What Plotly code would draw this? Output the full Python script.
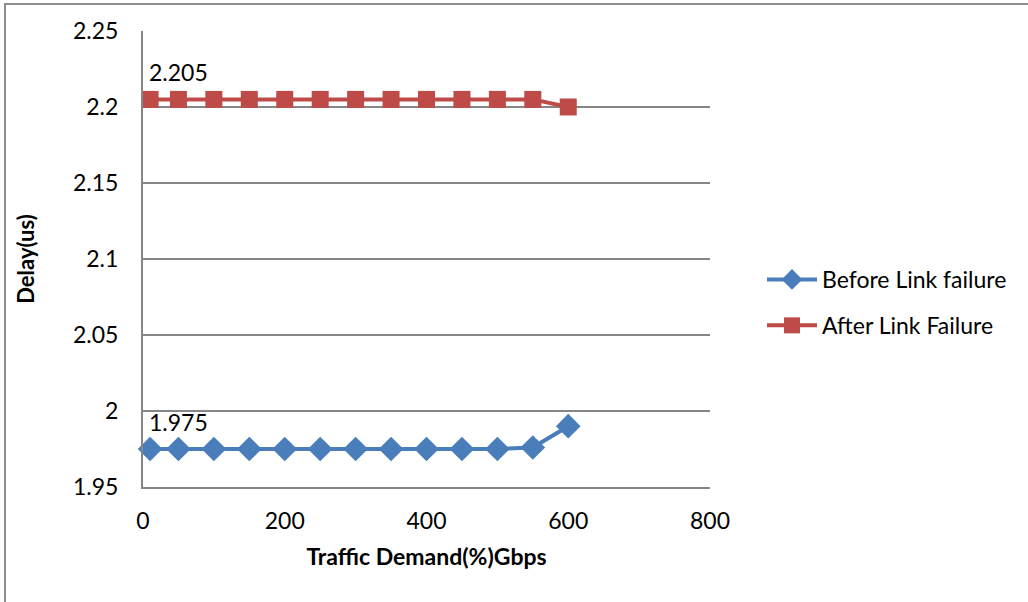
import plotly.graph_objects as go

# Traffic demand (x) and measured delay for each scenario
traffic = [10, 50, 100, 150, 200, 250, 300, 350, 400, 450, 500, 550, 600]
delay_before = [1.975, 1.975, 1.975, 1.975, 1.975, 1.975, 1.975, 1.975, 1.975, 1.975, 1.975, 1.976, 1.99]
delay_after = [2.205, 2.205, 2.205, 2.205, 2.205, 2.205, 2.205, 2.205, 2.205, 2.205, 2.205, 2.205, 2.2]

x_ticks = [0, 200, 400, 600, 800]
y_ticks = [1.95, 2.0, 2.05, 2.1, 2.15, 2.2, 2.25]
y_tick_text = ["1.95", "2", "2.05", "2.1", "2.15", "2.2", "2.25"]

BLUE = "#4A7EBB"
RED = "#BE4B48"
GRID = "#868686"
FONT = "Lato, Open Sans, sans-serif"
TXT = 23

fig = go.Figure()
fig.add_trace(go.Scatter(
    x=traffic, y=delay_before, name="Before Link failure", legendgroup="before",
    mode="lines+markers",
    line=dict(color=BLUE, width=4),
    marker=dict(symbol="diamond", size=19, color=BLUE),
    cliponaxis=False,
))
fig.add_trace(go.Scatter(
    x=traffic, y=delay_after, name="After Link Failure", legendgroup="after",
    mode="lines+markers",
    line=dict(color=RED, width=4),
    marker=dict(symbol="square", size=17, color=RED),
    cliponaxis=False,
))

# value label above the first point of each series
for series in (delay_before, delay_after):
    fig.add_annotation(
        x=traffic[0], y=series[0], text=f"{series[0]:.3f}",
        xref="x", yref="y", xanchor="left", yanchor="bottom",
        xshift=-3, yshift=11, showarrow=False,
        font=dict(size=TXT, family=FONT, color="#000000"),
    )

L, R, T, B = 143, 710, 31, 487
W, H = 1028, 602


def px_x(p):
    return (p - L) / (R - L)


def px_y(p):
    return (B - p) / (B - T)


# outer chart border (extends past the right and bottom edges of the page)
fig.add_shape(type="rect", xref="paper", yref="paper",
              x0=px_x(5), x1=px_x(1040), y0=px_y(620), y1=px_y(4),
              line=dict(color="#8C8C8C", width=2), fillcolor="rgba(0,0,0,0)",
              layer="below")

fig.update_layout(
    width=W, height=H,
    margin=dict(l=L, r=W - R, t=T, b=H - B),
    plot_bgcolor="#FFFFFF", paper_bgcolor="#FFFFFF",
    font=dict(family=FONT, size=TXT, color="#000000"),
    showlegend=True,
    legend=dict(
        x=px_x(762), y=px_y(258), xanchor="left", yanchor="top",
        font=dict(size=TXT, family=FONT, color="#000000"),
        traceorder="grouped", tracegroupgap=13, itemwidth=50,
        bgcolor="rgba(0,0,0,0)",
    ),
    xaxis=dict(
        range=[0, 800], tickvals=x_ticks, showgrid=False, zeroline=False,
        showline=True, linecolor=GRID, linewidth=2,
        ticks="", ticklabelstandoff=12,
        tickfont=dict(size=TXT, family=FONT),
        title=dict(text="<b>Traffic Demand(%)Gbps</b>", font=dict(size=23, family=FONT), standoff=16),
    ),
    yaxis=dict(
        range=[1.95, 2.25], tickvals=y_ticks, ticktext=y_tick_text,
        showgrid=True, gridcolor=GRID, gridwidth=1.5, zeroline=False,
        showline=True, linecolor=GRID, linewidth=2,
        ticks="", ticklabelstandoff=18,
        tickfont=dict(size=TXT, family=FONT),
        title=dict(text="<b>Delay(us)</b>", font=dict(size=22, family=FONT), standoff=32),
    ),
)

fig.write_html("out.html")
